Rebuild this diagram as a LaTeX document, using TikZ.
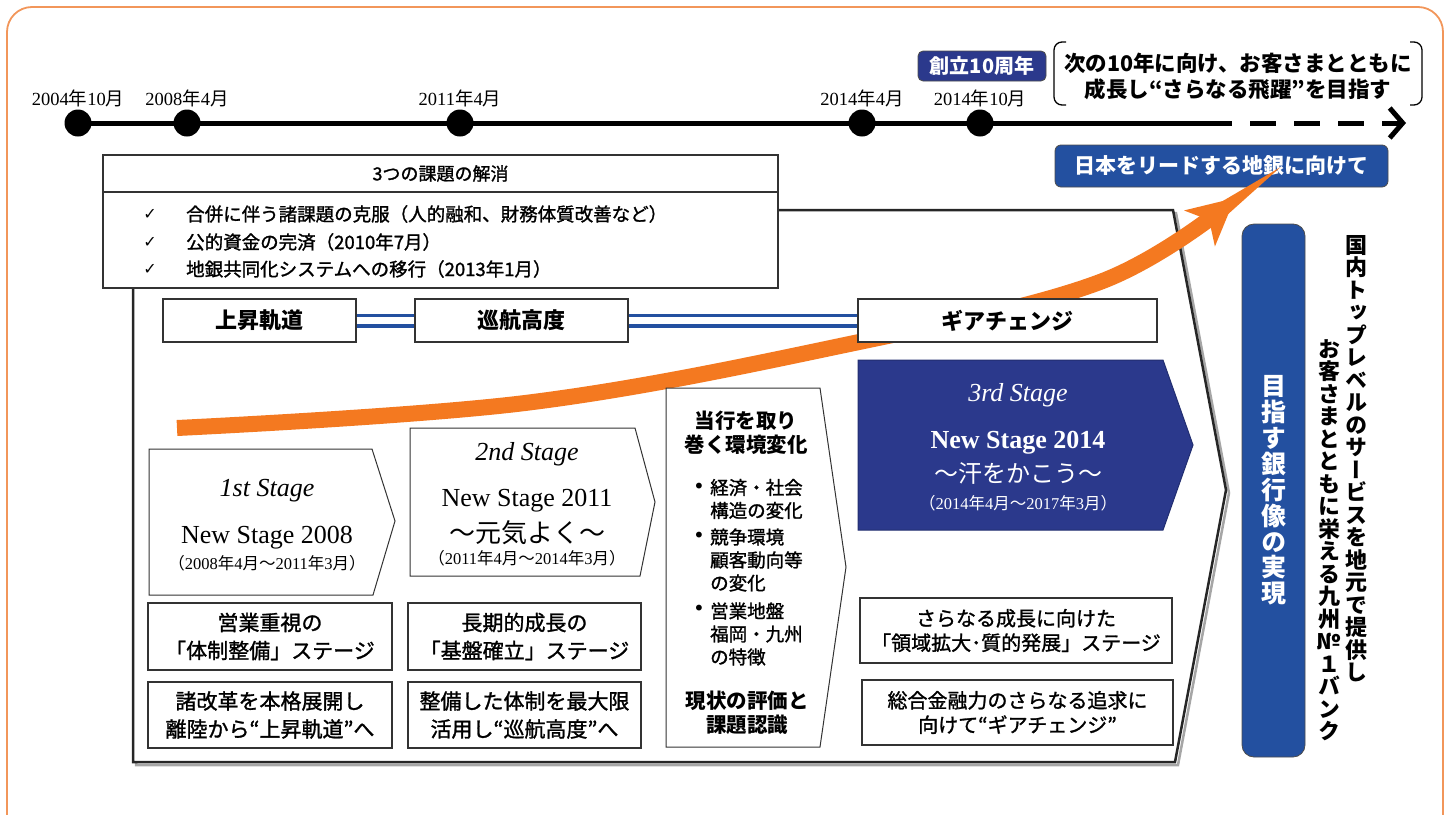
\documentclass[tikz,border=0pt]{standalone}
\usepackage{fontspec}
\setmainfont{Liberation Serif}
\newfontfamily\jp{Noto Sans CJK JP}
\newfontfamily\jpm{Noto Sans CJK JP}[FakeBold=1.3]
\newfontfamily\jpv{Noto Sans CJK JP}[RawFeature=+vert]
\newfontfamily\sym{DejaVu Sans}
\usepackage{xcolor}
\usetikzlibrary{arrows.meta}
\definecolor{navyblue}{RGB}{43,57,140}
\definecolor{bankblue}{RGB}{35,80,160}
\definecolor{arroworange}{RGB}{244,121,32}
\definecolor{frameorange}{RGB}{242,150,90}
\newcommand{\fsz}[2]{\fontsize{#1}{#2}\selectfont}
\newcommand{\nen}{{\jp 年}}
\newcommand{\tsuki}{{\jp 月}}

\begin{document}
\begin{tikzpicture}[x=1pt, y=-1pt,
    box/.style={draw=black!80, line width=1.2pt, fill=white, inner sep=0pt, align=center},
    barbox/.style={box, font=\jp\bfseries\fsz{22}{26}, minimum height=43pt},
    phasebox/.style={box, font=\jpm\fsz{21}{28}, minimum height=66pt},
    gearbox/.style={box, font=\jpm\fsz{20}{24.5}, minimum height=65pt},
    bluebox/.style={draw=black!70, line width=0.8pt, fill=bankblue, text=white,
        rounded corners=6pt, inner sep=0pt, align=center},
    stageshape/.style={draw=black!80, line width=1pt, fill=white},
    stagehead/.style={font=\itshape\fsz{26}{30}, inner sep=0pt},
    stagename/.style={font=\fsz{26}{30}, inner sep=0pt},
    stageterm/.style={font=\fsz{16.5}{18}, inner sep=0pt},
    stagemotto/.style={font=\jp\fsz{26}{30}, inner sep=0pt},
    datelbl/.style={font=\fsz{18.5}{20}, inner sep=0pt},
    tldot/.style={circle, fill=black, minimum size=27pt, inner sep=0pt},
    timeline/.style={line width=5pt},
    issue/.style={font=\jpm\fsz{18.5}{20}, inner sep=0pt, anchor=west},
    tick/.style={font=\sym\fsz{16}{17}, inner sep=0pt},
    envtext/.style={font=\jpm\fsz{18.5}{23}, inner sep=0pt, align=left, anchor=west},
    envhead/.style={font=\jp\bfseries\fsz{20.5}{24.5}, inner sep=0pt, align=center},
    vtext/.style={font=\jpv\bfseries\fsz{22}{22.5}, inner sep=0pt, align=center, anchor=north}
]
    \useasboundingbox (0,0) rectangle (1451,814);
    % Outer frame
    \draw[frameorange, line width=1.8pt, rounded corners=25pt] (7,7) rectangle (1443,840);

    % Time line
    \coordinate (tlstart) at (78,123);
    \coordinate (tldash) at (1232,123);
    \coordinate (tlend) at (1406,123);
    \draw[timeline] (tlstart) -- (tldash);
    \draw[timeline, dash pattern=on 26pt off 18pt, dash phase=26pt,
        -{Straight Barb[length=13pt, width=30pt]}] (tldash) -- (tlend);
    \foreach \px/\lab in {78/{2004\nen10\tsuki}, 187/{2008\nen4\tsuki}, 460/{2011\nen4\tsuki},
                          862/{2014\nen4\tsuki}, 980/{2014\nen10\tsuki}}
    {
        \node[tldot] (dot\px) at (\px,123) {};
        \node[datelbl] (lbl\px) at (\px,98) {\lab};
    }
    \node[bluebox, fill=navyblue, rounded corners=5pt, minimum width=128pt, minimum height=30pt,
        font=\jp\bfseries\fsz{20}{22}] (anniv) at (982,66) {創立10周年};
    % Goal in brackets
    \draw[line width=1.3pt, rounded corners=8pt] (1066,42) -- (1054,42) -- (1054,105) -- (1066,105);
    \draw[line width=1.3pt, rounded corners=8pt] (1410,42) -- (1422,42) -- (1422,105) -- (1410,105);
    \node[font=\jp\bfseries\fsz{21.5}{26}, align=center, inner sep=0pt] (goal) at (1238,76)
        {次の10年に向け、お客さまとともに\\成長し“さらなる飛躍”を目指す};
    \node[bluebox, minimum width=333pt, minimum height=42pt,
        font=\jp\bfseries\fsz{21}{24}] (lead) at (1221.5,166) {日本をリードする地銀に向けて};

    % Main frame with shadow
    \draw[black!35, line width=2.5pt, shift={(3,3)}]
        (133,210) -- (1173,210) -- (1226,490) -- (1175,762) -- (133,762) -- cycle;
    \draw[black!85, line width=2.5pt, fill=white]
        (133,210) -- (1173,210) -- (1226,490) -- (1175,762) -- (133,762) -- cycle;

    % Three issues
    \node[box, minimum width=675pt, minimum height=37pt, font=\jpm\fsz{18}{20}] (issuehead)
        at (440.5,173.5) {3つの課題の解消};
    \node[box, minimum width=675pt, minimum height=96pt] (issuebody) at (440.5,240) {};
    \foreach \py/\txt in {214/{合併に伴う諸課題の克服（人的融和、財務体質改善など）},
                          242/{公的資金の完済（2010年7月）},
                          269/{地銀共同化システムへの移行（2013年1月）}}
    {
        \node[tick] (tick\py) at (150,\py) {✓};
        \node[issue] (issue\py) at (186,\py) {\txt};
    }

    % Growth arrow
    \draw[arroworange, line width=16pt, -{Stealth[length=46pt, width=46pt, inset=12pt]}]
        plot[smooth, tension=0.6] coordinates {(177,428) (525,403) (840,346) (1100,282) (1235,198)};

    % Flight phases
    \node[barbox, minimum width=193pt] (ascent) at (259.5,320.5) {上昇軌道};
    \node[barbox, minimum width=213pt] (cruise) at (521.5,320.5) {巡航高度};
    \node[barbox, minimum width=299pt] (gear) at (1007.5,320.5) {ギアチェンジ};
    \draw[draw=bankblue, line width=3.5pt, double=white, double distance=7pt] (ascent) -- (cruise);
    \draw[draw=bankblue, line width=3.5pt, double=white, double distance=7pt] (cruise) -- (gear);

    % 1st Stage
    \draw[stageshape] (149,449) -- (372,449) -- (395,521) -- (373,595) -- (149,595) -- cycle;
    \node[stagehead] (s1head) at (267,491) {1st Stage};
    \node[stagename] (s1name) at (267,538) {New Stage 2008};
    \node[stageterm] (s1term) at (267,563) {{\jp （}2008\nen4\tsuki{\jp ～}2011\nen3\tsuki{\jp ）}};
    % 2nd Stage
    \draw[stageshape] (410,428) -- (635,428) -- (655,502) -- (640,576) -- (410,576) -- cycle;
    \node[stagehead] (s2head) at (527,454) {2nd Stage};
    \node[stagename] (s2name) at (527,501) {New Stage 2011};
    \node[stagemotto] (s2motto) at (527,533) {～元気よく～};
    \node[stageterm] (s2term) at (527,558) {{\jp （}2011\nen4\tsuki{\jp ～}2014\nen3\tsuki{\jp ）}};
    % Environment
    \draw[stageshape] (666,388) -- (820,388) -- (846,567) -- (820,747) -- (666,747) -- cycle;
    \node[envhead] (envtitle) at (746,433) {当行を取り\\巻く環境変化};
    \node[envtext] (env1) at (710,499) {経済・社会\\構造の変化};
    \node[envtext] (env2) at (710,560) {競争環境\\顧客動向等\\の変化};
    \node[envtext] (env3) at (710,634) {営業地盤\\福岡・九州\\の特徴};
    \foreach \py in {488,537,610}
        \node[font=\sym\fsz{20}{22}, inner sep=0pt] (bul\py) at (699,\py) {•};
    \node[envhead] (envsum) at (747,713) {現状の評価と\\課題認識};
    % 3rd Stage
    \draw[navyblue!80!black, line width=1pt, fill=navyblue]
        (858,360) -- (1163,360) -- (1193,445) -- (1163,530) -- (858,530) -- cycle;
    \node[stagehead, text=white] (s3head) at (1018,395) {3rd Stage};
    \node[stagename, text=white, font=\bfseries\fsz{26}{30}] (s3name) at (1018,443) {New Stage 2014};
    \node[stagemotto, text=white, font=\jp\fsz{24}{28}] (s3motto) at (1018,473) {～汗をかこう～};
    \node[stageterm, text=white] (s3term) at (1018,503) {{\jp （}2014\nen4\tsuki{\jp ～}2017\nen3\tsuki{\jp ）}};

    % Stage themes
    \node[phasebox, minimum width=244pt, minimum height=67pt] (prep) at (270,636.5)
        {営業重視の\\「体制整備」ステージ};
    \node[phasebox, minimum width=244pt] (takeoff) at (270,715)
        {諸改革を本格展開し\\離陸から“上昇軌道”へ};
    \node[phasebox, minimum width=233pt, minimum height=67pt] (base) at (524.5,636.5)
        {長期的成長の\\「基盤確立」ステージ};
    \node[phasebox, minimum width=233pt] (fulluse) at (524.5,715)
        {整備した体制を最大限\\活用し“巡航高度”へ};
    \node[gearbox, minimum width=312pt] (expand) at (1016,630.5)
        {さらなる成長に向けた\\「領域拡大･質的発展」ステージ};
    \node[gearbox, minimum width=311pt] (shift) at (1017.5,712.5)
        {総合金融力のさらなる追求に\\向けて“ギアチェンジ”};

    % Vision
    \node[bluebox, rounded corners=12pt, minimum width=63pt, minimum height=533pt,
        font=\jpv\bfseries\fsz{25}{25.9}] (vision) at (1273.5,490.5)
        {目\\指\\す\\銀\\行\\像\\の\\実\\現};
    \node[vtext] (vision1) at (1356,235)
        {国\\内\\ト\\ッ\\プ\\レ\\ベ\\ル\\の\\サ\\ー\\ビ\\ス\\を\\地\\元\\で\\提\\供\\し};
    \node[vtext] (vision2) at (1329,339)
        {お\\客\\さ\\ま\\と\\と\\も\\に\\栄\\え\\る\\九\\州\\№\\１\\バ\\ン\\ク};
\end{tikzpicture}
\end{document}
